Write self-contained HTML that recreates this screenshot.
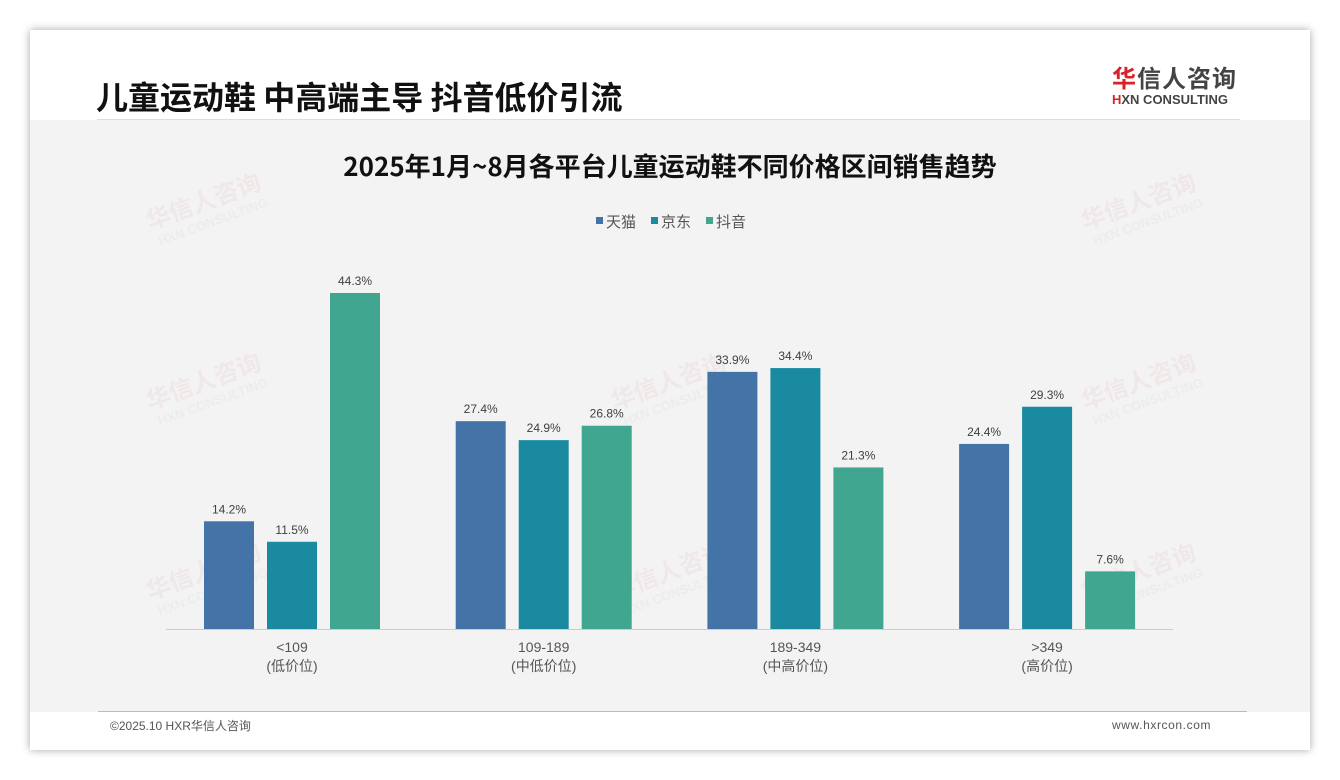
<!DOCTYPE html>
<html><head><meta charset="utf-8"><style>
body{margin:0;width:1340px;height:780px;background:#fff;font-family:"Liberation Sans","Noto Sans CJK SC",sans-serif;position:relative;overflow:hidden}
#card{position:absolute;left:30px;top:30px;width:1280px;height:720px;background:#fff;box-shadow:0 0 8px rgba(0,0,0,.35)}
#plot{position:absolute;left:30px;top:120px;width:1280px;height:592px;background:#f3f3f3}
.abs{position:absolute}
</style></head><body>
<div id="card"></div>
<div id="plot"></div>
<div class="abs" style="left:96px;top:76px;font-size:32px;font-weight:bold;color:#111;font-family:'Noto Sans CJK SC',sans-serif;line-height:40px;white-space:nowrap">儿童运动鞋 中高端主导 抖音低价引流</div>
<div class="abs" style="left:97px;top:119px;width:1143px;height:1px;background:#ddd"></div>
<div class="abs" style="left:1112px;top:62px;width:140px;white-space:nowrap">
<div style="font-size:24px;font-weight:bold;color:#444;line-height:30px;font-family:'Noto Sans CJK SC',sans-serif;letter-spacing:1px"><span style="color:#d9232a">华</span>信人咨询</div>
<div style="font-size:13px;font-weight:bold;color:#444;line-height:16px"><span style="color:#d9232a">H</span>XN CONSULTING</div></div>
<div class="abs" style="left:98px;top:711px;width:1149px;height:1px;background:#9fc3e0"></div>
<div class="abs" style="left:110px;top:717px;font-size:12px;color:#555">©2025.10 HXR华信人咨询</div>
<div class="abs" style="left:1112px;top:718px;font-size:12px;color:#555;letter-spacing:0.6px">www.hxrcon.com</div>
<svg class="abs" style="left:0;top:0" width="1340" height="780" id="chart">
<g id="wm" opacity="0.06"></g>
<text x="670" y="176" text-anchor="middle" font-size="26" font-weight="bold" fill="#111" font-family="Noto Sans CJK SC,sans-serif">2025年1月~8月各平台儿童运动鞋不同价格区间销售趋势</text>
<g id="legend"></g>
<line x1="166" y1="629.5" x2="1173" y2="629.5" stroke="#ccc"/>
<g id="bars"></g>
</svg>
<script>
const categories=["<109","109-189","189-349",">349"];
const subLabels=["(低价位)","(中低价位)","(中高价位)","(高价位)"];
const seriesNames=["天猫","京东","抖音"];
const tmall=[14.2,27.4,33.9,24.4];
const jd=[11.5,24.9,34.4,29.3];
const douyin=[44.3,26.8,21.3,7.6];
const colors=["#4473a8","#1a8aa1","#40a690"];
const NS="http://www.w3.org/2000/svg";
const series=[tmall,jd,douyin];
const y=v=>629-v*7.585;
const xc=i=>292+i*251.7;
function mk(tag,attrs,parent){const e=document.createElementNS(NS,tag);for(const k in attrs)e.setAttribute(k,attrs[k]);parent.appendChild(e);return e;}
const bars=document.getElementById('bars');
series.forEach((s,si)=>{s.forEach((v,ci)=>{
 const x=xc(ci)-88+si*63;
 const r=mk('rect',{x:x,y:y(v),width:50,height:629-y(v),fill:colors[si]},bars);
 
 
 const t=mk('text',{x:x+25,y:y(v)-8,'text-anchor':'middle','font-size':12,fill:'#404040'},bars);
 t.textContent=v.toFixed(1)+'%';
 
 
});});
categories.forEach((c,i)=>{
 const t=mk('text',{x:xc(i),y:652,'text-anchor':'middle','font-size':14,fill:'#555'},bars);t.textContent=c;
 
 
 const t2=mk('text',{x:xc(i),y:671,'text-anchor':'middle','font-size':14,fill:'#555'},bars);t2.textContent=subLabels[i];
 
 
});
const lg=document.getElementById('legend');
[596,651,706].forEach((lx,i)=>{
 const g=mk('g',{},lg);
 
 
 mk('rect',{x:lx,y:217,width:7,height:7,fill:colors[i]},g);
 const t=mk('text',{x:lx+10,y:227,'font-size':15,fill:'#555'},g);t.textContent=seriesNames[i];
});
const wm=document.getElementById('wm');
[[150,230],[1085,230],[150,410],[1085,410],[150,600],[1085,600],[615,410],[615,600]].forEach(p=>{
 const g=mk('g',{transform:`translate(${p[0]},${p[1]}) rotate(-20)`},wm);
 
 
 const a=mk('text',{x:0,y:0,'font-size':24,'font-weight':'bold',fill:'#c44'},g);a.textContent='华信人咨询';
 const b=mk('text',{x:4,y:18,'font-size':13,'font-weight':'bold',fill:'#888'},g);b.textContent='HXN CONSULTING';
});
</script>
</body></html>
